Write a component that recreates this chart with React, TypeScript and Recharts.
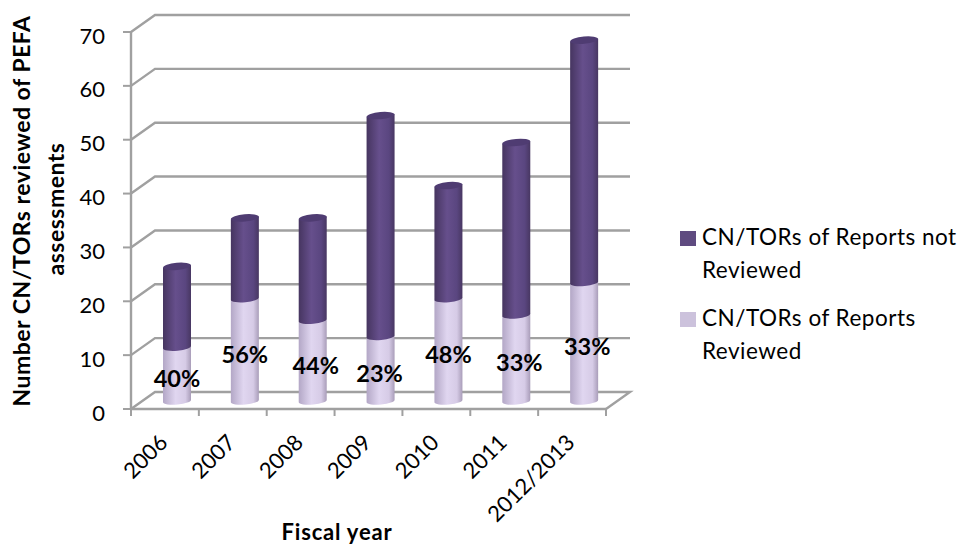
import { Bar, BarChart, CartesianGrid, Label, LabelList, Legend, XAxis, YAxis } from "recharts";

const FISCAL_YEARS = ["2006", "2007", "2008", "2009", "2010", "2011", "2012/2013"];
const REVIEWED = [10, 19, 15, 12, 19, 16, 22];
const NOT_REVIEWED = [15, 15, 19, 41, 21, 32, 45];
const Y_TICKS = [0, 10, 20, 30, 40, 50, 60, 70];

const rows = FISCAL_YEARS.map((year, i) => ({
  year,
  reviewed: REVIEWED[i],
  notReviewed: NOT_REVIEWED[i],
  share: `${Math.round((100 * REVIEWED[i]) / (REVIEWED[i] + NOT_REVIEWED[i]))}%`,
}));

const FONT = "Lato, sans-serif";
const GRID = "#a0a0a0";
const WIDTH = 964;
const HEIGHT = 546;
const MARGIN = { top: 32, right: 76, bottom: 0, left: 0 };
const LEGEND_WIDTH = 282;
const PLOT_RIGHT = 606;
const PLOT_LEFT = 131;
const BAND = (PLOT_RIGHT - PLOT_LEFT) / FISCAL_YEARS.length;

// fake depth: how far the back wall sits from the front axes
const WALL_X = 24;
const WALL_Y = 17;
// cylinders stand in the middle of the floor
const BAR_DX = 12;
const BAR_DY = -8;
const TILT = 1.3;
const RY = 3.6;
// hand placed labels do not sit exactly on their bar
const SHARE_NUDGE = [0, 0, 3, -1, 0, 3, 3];

function Cylinder({ x, y, width, height, gradient, cap }: any) {
  const left = x + BAR_DX;
  const right = left + width;
  const top = y + BAR_DY;
  const bottom = top + height;
  const rx = width / 2;
  const arc = `A ${rx} ${RY} -5 0 0 ${right} ${bottom - TILT}`;
  return (
    <g>
      <path
        d={`M ${left} ${top + TILT} L ${left} ${bottom + TILT} ${arc} L ${right} ${top - TILT} Z`}
        fill={`url(#${gradient})`}
      />
      {cap && (
        <ellipse cx={left + rx} cy={top} rx={rx} ry={RY} fill={cap} transform={`rotate(-5 ${left + rx} ${top})`} />
      )}
    </g>
  );
}

function WallLine({ x1, y1, x2, y2, key }: any) {
  // the floor also closes its right hand side
  const points = [
    [x1, y1],
    [x1 + WALL_X, y1 - WALL_Y],
    [x2 + WALL_X, y2 - WALL_Y],
    ...(y1 > 400 ? [[x2, y2]] : []),
  ];
  return <polyline key={key} points={points.join(" ")} fill="none" stroke={GRID} strokeWidth={2.4} />;
}

function YearTick({ x, y, payload, index }: any) {
  const boundary = x - BAND / 2;
  return (
    <g>
      <line x1={boundary} y1={y - 8} x2={boundary} y2={y - 1} stroke={GRID} strokeWidth={2} />
      {index === FISCAL_YEARS.length - 1 && (
        <line x1={x + BAND / 2} y1={y - 8} x2={x + BAND / 2} y2={y - 1} stroke={GRID} strokeWidth={2} />
      )}
      <text
        x={x + 4}
        y={y + 27}
        textAnchor="end"
        transform={`rotate(-45 ${x + 4} ${y + 27})`}
        fontFamily={FONT}
        fontSize={22}
        fill="#000"
      >
        {payload.value}
      </text>
    </g>
  );
}

function ValueTick({ y, payload }: any) {
  return (
    <text x={105} y={y + 3} textAnchor="end" dominantBaseline="central" fontFamily={FONT} fontSize={22} fill="#000">
      {payload.value}
    </text>
  );
}

function ShareLabel({ x, y, width, height, value, index }: any) {
  return (
    <text
      x={x + BAR_DX + width / 2 + SHARE_NUDGE[index]}
      y={y + BAR_DY + height / 2 + 4}
      textAnchor="middle"
      dominantBaseline="central"
      fontFamily={FONT}
      fontSize={23.5}
      fontWeight={700}
      fill="#000"
    >
      {value}
    </text>
  );
}

function YTitle() {
  const common = {
    fontFamily: FONT,
    fontSize: 23,
    letterSpacing: 0.5,
    fontWeight: 700,
    textAnchor: "middle" as const,
    fill: "#000",
  };
  return (
    <g>
      <text {...common} x={21} y={211} dominantBaseline="central" transform="rotate(-90 21 211)">
        Number CN/TORs reviewed of PEFA
      </text>
      <text {...common} x={55} y={209} dominantBaseline="central" transform="rotate(-90 55 209)">
        assessments
      </text>
    </g>
  );
}

function XTitle() {
  return (
    <text
      x={337}
      y={531}
      textAnchor="middle"
      dominantBaseline="central"
      fontFamily={FONT}
      fontSize={22}
      letterSpacing={0.8}
      fontWeight={700}
      fill="#000"
    >
      Fiscal year
    </text>
  );
}

function LegendList({ payload }: any) {
  return (
    <div style={{ fontFamily: FONT, fontSize: 22.5, letterSpacing: 0.5, lineHeight: "33px", color: "#000" }}>
      {[...(payload ?? [])].reverse().map((item: any) => (
        <div key={item.value} style={{ display: "flex", marginBottom: 15 }}>
          <span style={{ width: 16, height: 15, flex: "none", marginTop: 11, marginRight: 6, background: item.color }} />
          <span style={{ width: 258 }}>{item.value}</span>
        </div>
      ))}
    </div>
  );
}

export default function App() {
  return (
    <div style={{ position: "absolute", left: 0, top: 0, width: WIDTH, height: HEIGHT, background: "#fff" }}>
      <BarChart width={WIDTH} height={HEIGHT} data={rows} margin={MARGIN} barSize={28}>
        <defs>
          <linearGradient id="darkSide" x1="0" y1="0" x2="1" y2="0">
            <stop offset="0" stopColor="#463560" />
            <stop offset="0.45" stopColor="#664f8c" />
            <stop offset="0.8" stopColor="#5a4680" />
            <stop offset="1" stopColor="#483762" />
          </linearGradient>
          <linearGradient id="lightSide" x1="0" y1="0" x2="1" y2="0">
            <stop offset="0" stopColor="#b3a7c6" />
            <stop offset="0.45" stopColor="#e0d6f0" />
            <stop offset="0.8" stopColor="#d6cbe6" />
            <stop offset="1" stopColor="#a99db9" />
          </linearGradient>
        </defs>
        <CartesianGrid vertical={false} horizontal={WallLine} />
        <XAxis
          dataKey="year"
          height={137}
          interval={0}
          tickLine={false}
          axisLine={{ stroke: GRID, strokeWidth: 2.4 }}
          tick={YearTick}
          tickSize={8}
          tickMargin={0}
        >
          <Label content={XTitle} />
        </XAxis>
        <YAxis
          width={PLOT_LEFT}
          domain={[0, 70]}
          ticks={Y_TICKS}
          interval={0}
          tickSize={8}
          tickLine={{ stroke: GRID, strokeWidth: 2 }}
          axisLine={{ stroke: GRID, strokeWidth: 2.4 }}
          tick={ValueTick}
        >
          <Label content={YTitle} />
        </YAxis>
        <Legend
          layout="vertical"
          align="right"
          verticalAlign="top"
          width={LEGEND_WIDTH}
          itemSorter={null}
          wrapperStyle={{ left: 680, top: 220, right: "auto" }}
          content={LegendList}
        />
        <Bar
          dataKey="reviewed"
          name="CN/TORs of Reports Reviewed"
          stackId="fiscal"
          fill="#ccc2dc"
          isAnimationActive={false}
          shape={(props: any) => <Cylinder {...props} gradient="lightSide" />}
        >
          <LabelList dataKey="share" content={ShareLabel} />
        </Bar>
        <Bar
          dataKey="notReviewed"
          name="CN/TORs of Reports not Reviewed"
          stackId="fiscal"
          fill="#5f4b80"
          isAnimationActive={false}
          shape={(props: any) => <Cylinder {...props} gradient="darkSide" cap="#4f3c72" />}
        />
      </BarChart>
    </div>
  );
}
